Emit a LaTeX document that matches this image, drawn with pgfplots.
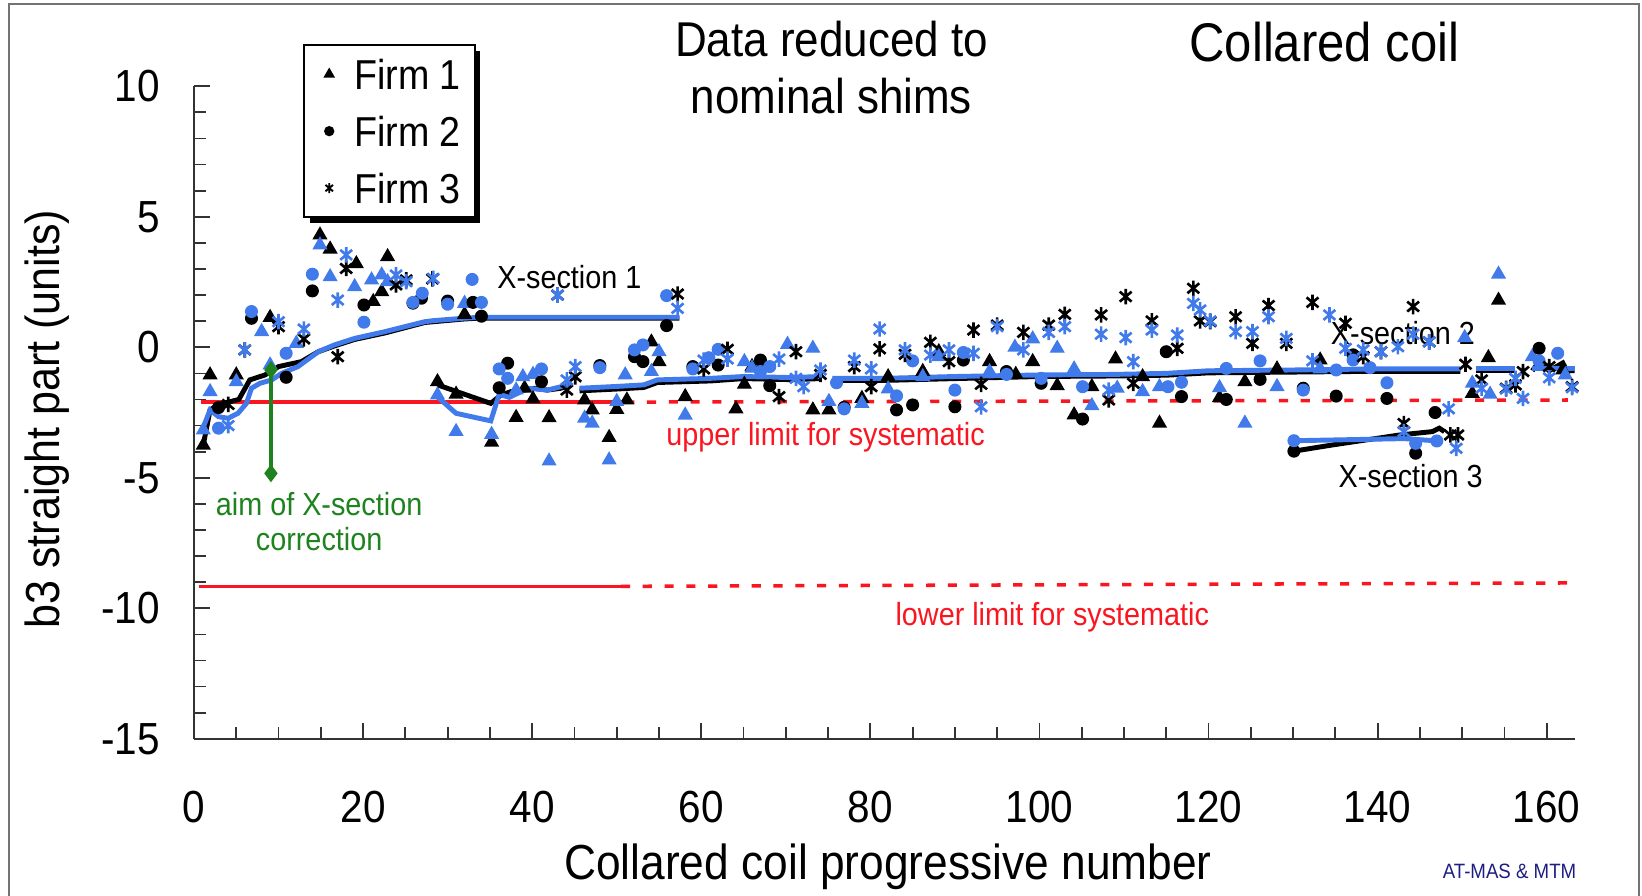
\documentclass[border=0pt]{standalone}
\usepackage{fontspec}
\setmainfont{Liberation Sans}[FakeStretch=0.9]
\usepackage{pgfplots}
\pgfplotsset{compat=1.18}
\usetikzlibrary{shadows}

\definecolor{cblue}{RGB}{64,122,235}
\definecolor{cred}{RGB}{250,22,32}
\definecolor{cgreen}{RGB}{30,130,30}
\definecolor{cnavy}{RGB}{30,30,130}

% asterisk with a vertical arm and two diagonals
\pgfdeclareplotmark{xast}{%
  \pgfpathmoveto{\pgfqpoint{0pt}{\pgfplotmarksize}}%
  \pgfpathlineto{\pgfqpoint{0pt}{-\pgfplotmarksize}}%
  \pgfpathmoveto{\pgfqpoint{0.766\pgfplotmarksize}{0.643\pgfplotmarksize}}%
  \pgfpathlineto{\pgfqpoint{-0.766\pgfplotmarksize}{-0.643\pgfplotmarksize}}%
  \pgfpathmoveto{\pgfqpoint{-0.766\pgfplotmarksize}{0.643\pgfplotmarksize}}%
  \pgfpathlineto{\pgfqpoint{0.766\pgfplotmarksize}{-0.643\pgfplotmarksize}}%
  \pgfusepathqstroke}

\pgfplotsset{
  tri/.style={only marks, forget plot, mark=triangle*, mark size=2.1pt},
  dot/.style={only marks, forget plot, mark=*, mark size=1.65pt},
  ast/.style={only marks, forget plot, mark=xast, mark size=2.2pt, line width=0.75pt},
  avg/.style={forget plot, no marks, line width=1.4pt},
}
\tikzset{lbl/.style={font=\fontsize{9.1}{11}\selectfont, anchor=west, inner sep=0pt}}

\begin{document}
\begin{tikzpicture}
\useasboundingbox (0,0) rectangle (16.42,8.96);
\draw[black!55, line width=0.5pt] (0.09,-0.3) rectangle (16.39,8.92);
\begin{axis}[
  scale only axis, width=13.806cm, height=6.525cm,
  at={(1.94cm,1.572cm)}, anchor=south west,
  xmin=0, xmax=163.3, ymin=-15, ymax=10,
  axis lines=left, axis line style={-, black!80, line width=0.6pt},
  clip=false,
  xtick={0,20,...,160}, xticklabels={0,20,40,60,80,100,120,140,160},
  minor x tick num=3,
  ytick={-15,-10,...,10}, yticklabels={-15,-10,-5,0,5,10},
  minor y tick num=4,
  tick align=inside, major tick length=0.16cm, minor tick length=0.12cm,
  tick style={black!80, line width=0.5pt},
  ticklabel style={font=\fontsize{12.8}{15}\selectfont},
  xticklabel style={anchor=north, yshift=-0.4cm},
  yticklabel style={anchor=east, xshift=-0.22cm},
  xlabel={Collared coil progressive number},
  ylabel={b3 straight part (units)},
  xlabel style={at={(axis description cs:0.5027,-0.1965)}, anchor=center, font=\fontsize{14}{16}\selectfont},
  ylabel style={at={(axis description cs:-0.1065,0.49)}, anchor=center, font=\fontsize{13.6}{16}\selectfont},
  legend image code/.code={\path (0cm,0cm) (0.2cm,0cm); \draw[#1, /tikz/only marks] plot coordinates {(0.1cm,0cm)};},
  legend cell align=left,
  legend style={
    at={(axis description cs:0.079,1.0648)}, anchor=north west,
    draw=black, line width=0.6pt, fill=white,
    drop shadow={shadow xshift=0.55mm, shadow yshift=-0.55mm, fill=black, opacity=1},
    font=\fontsize{11.9}{14}\selectfont,
    inner xsep=4pt, inner ysep=4pt, row sep=7.6pt,
    nodes={inner sep=0pt, text height=8.6pt, text depth=0pt},
    /tikz/every odd column/.style={column sep=0.14cm},
  },
]
\addlegendimage{mark=triangle*, mark size=1.3pt, black}
\addlegendentry{Firm 1}
\addlegendimage{mark=*, mark size=1.15pt, black}
\addlegendentry{Firm 2}
\addlegendimage{mark=xast, mark size=1.4pt, black, line width=0.55pt}
\addlegendentry{Firm 3}

% limits for the systematic part
\addplot[forget plot, cred, line width=1pt] coordinates {(0.8,-2.1) (51,-2.1)};
\addplot[forget plot, cred, line width=1pt, dash pattern=on 2.6pt off 3.6pt] coordinates {(51,-2.1) (162.5,-2.02)};
\addplot[forget plot, cred, line width=1pt] coordinates {(0.6,-9.16) (50.5,-9.16)};
\addplot[forget plot, cred, line width=1pt, dash pattern=on 2.6pt off 3.6pt] coordinates {(50.5,-9.16) (162.5,-9.03)};

% running averages, X-section 1
\addplot[avg, black] coordinates {(1.1,-3.74) (1.9,-2.4) (2.9,-2.2) (5.3,-2.0) (6.6,-1.25) (8.4,-1.06) (10,-0.74) (12.7,-0.55) (14.7,-0.17) (16.6,0.05) (19,0.3) (22.6,0.55) (27.3,0.95) (31.8,1.08) (33.8,1.12) (57.4,1.12)};
\addplot[avg, cblue] coordinates {(0.9,-3.23) (1.9,-2.4) (2.9,-2.66) (4.05,-2.72) (5.2,-2.53) (6.2,-2.15) (6.8,-1.57) (7.8,-1.38) (9.2,-1.25) (10.35,-1.0) (12.3,-0.74) (14.7,-0.17) (16.6,0.09) (19.0,0.34) (22.6,0.6) (27.3,0.98) (28.3,1.02) (31.8,1.11) (33.8,1.15) (57.4,1.15)};
\addplot[avg, black] coordinates {(28.8,-1.44) (35.1,-2.15) (36.3,-1.83) (37.5,-1.7) (39.1,-1.64) (40.3,-1.57) (41.8,-1.64) (43.4,-1.57) (44.6,-1.44)};
\addplot[avg, cblue] coordinates {(28.8,-1.9) (31.0,-2.53) (35.1,-2.82) (36.1,-1.8) (37.3,-1.92) (39.5,-1.57) (41.8,-1.64) (43.4,-1.51) (44.6,-1.44)};
\addplot[avg, black] coordinates {(45.6,-1.67) (50,-1.6) (53.2,-1.54) (54.8,-1.35) (61.1,-1.29) (65,-1.2) (70.6,-1.24) (74.1,-1.2)};
\addplot[avg, cblue] coordinates {(45.6,-1.57) (50,-1.5) (53.2,-1.44) (54.8,-1.25) (61.1,-1.19) (65,-1.12) (70.6,-1.16) (74.1,-1.12)};
% X-section 2
\addplot[avg, black] coordinates {(75.5,-1.27) (81.6,-1.27) (90,-1.2) (100,-1.12) (108.7,-1.1) (115,-1.07) (120,-0.98) (130,-0.95) (140,-0.92) (149.8,-0.92)};
\addplot[avg, cblue] coordinates {(75.5,-1.19) (81.6,-1.19) (90,-1.12) (100,-1.06) (108.7,-1.04) (115,-1.0) (120,-0.9) (130,-0.87) (140,-0.83) (149.8,-0.83)};
\addplot[avg, black] coordinates {(151.6,-0.9) (156.3,-0.9)};
\addplot[avg, cblue] coordinates {(151.6,-0.83) (156.3,-0.83)};
\addplot[avg, black] coordinates {(158.3,-0.9) (159.1,-0.55) (160.3,-0.9) (161.9,-0.6) (162.4,-0.9) (163.3,-0.9)};
\addplot[avg, cblue] coordinates {(158.3,-0.83) (163.3,-0.83)};
% X-section 3
\addplot[avg, black] coordinates {(130.1,-3.98) (134.7,-3.74) (142.6,-3.36) (146.5,-3.23) (147.3,-3.1) (147.9,-3.23)};
\addplot[avg, cblue] coordinates {(130.1,-3.58) (143.1,-3.5) (147.2,-3.59)};

% Firm 1
\addplot[tri, black] table {
1.1 -3.75
1.9 -1.06
5.0 -1.06
9.0 1.14
14.9 4.3
16.1 3.76
19.2 3.2
21.2 1.75
22.2 2.13
22.9 3.47
28.8 -1.32
31.0 -1.8
32.0 1.26
35.2 -3.64
38.1 -2.69
39.1 -1.57
40.1 -1.98
42.0 -2.7
46.2 -2.02
47.1 -2.4
49.1 -3.46
50.0 -2.38
51.2 -2.02
54.1 0.2
55.0 -0.55
58.1 -1.89
64.1 -2.36
65.1 -1.42
66.0 -0.74
73.2 -2.4
75.1 -2.4
79.0 -1.96
82.1 -1.13
86.2 -0.93
88.1 -0.17
94.1 -0.55
97.2 -1.04
99.2 -0.55
102.1 -1.47
104.1 -2.59
106.2 -1.51
109.0 -0.45
112.2 -1.13
114.2 -2.91
121.3 -1.93
124.3 -1.32
128.1 -0.83
133.2 -0.49
151.2 -1.77
153.1 -0.4
154.3 1.8
161.9 -0.87
};
\addplot[tri, cblue] table {
1.1 -3.17
1.9 -1.7
5.0 -1.32
8.0 0.6
9.0 -0.68
12.1 0.15
14.9 3.92
16.1 2.7
19.0 2.32
21.0 2.58
22.2 2.77
22.9 2.51
28.8 -1.83
31.0 -3.23
32.0 1.68
35.2 -3.34
38.1 -1.64
38.9 -1.13
40.1 -1.04
42.0 -4.36
46.2 -2.72
47.1 -2.91
49.1 -4.32
50.0 -2.08
51.0 -1.06
54.1 -0.93
55.0 -0.17
58.1 -2.6
65.1 -0.55
66.0 -0.8
70.2 0.11
73.2 -0.04
75.1 -2.08
79.0 -2.15
82.1 -1.6
86.2 -1.13
88.1 -0.36
94.1 -0.93
97.1 0.0
99.2 0.32
102.1 -0.04
104.1 -0.83
106.2 -2.24
109.2 -1.57
112.2 -1.7
114.2 -1.51
121.3 -1.55
124.3 -2.91
128.1 -1.51
133.2 -0.83
150.3 0.37
151.2 -1.38
153.3 -1.8
154.3 2.8
158.3 -0.36
162.2 -1.06
};

% Firm 2
\addplot[dot, black] table {
2.9 -2.31
6.8 1.11
10.9 -1.15
14.0 2.16
20.1 1.62
25.9 1.69
26.9 1.88
30.0 1.77
33.0 1.72
34.0 1.19
36.1 -1.55
37.1 -0.61
41.1 -1.32
48.0 -0.7
52.1 -0.36
53.1 -0.55
55.9 0.83
59.0 -0.74
62.0 -0.68
67.0 -0.49
68.1 -1.47
76.9 -2.3
83.1 -2.4
85.0 -2.21
90.0 -2.28
91.0 -0.49
96.1 -0.93
100.2 -1.38
105.1 -2.75
115.0 -0.17
116.8 -1.89
122.1 -2.0
126.1 -1.23
130.1 -3.98
131.2 -1.57
135.1 -1.87
137.1 -0.29
141.1 -1.96
144.5 -4.06
146.8 -2.5
159.1 -0.04
};
\addplot[dot, cblue] table {
2.9 -3.1
6.8 1.37
10.9 -0.23
14.0 2.8
20.1 0.96
25.9 1.72
27.0 2.07
30.0 1.65
32.9 2.6
34.0 1.72
36.1 -0.83
37.1 -1.19
41.1 -0.83
48.0 -0.78
52.1 -0.1
53.1 0.09
55.9 1.98
59.0 -0.83
60.9 -0.4
62.0 -0.08
67.0 -0.93
68.1 -0.74
76.0 -1.36
76.9 -2.36
83.1 -1.86
85.0 -0.52
90.0 -1.64
91.0 -0.2
96.1 -1.04
100.2 -1.19
105.1 -1.51
115.2 -1.51
116.8 -1.34
122.1 -0.81
126.1 -0.52
130.1 -3.58
131.2 -1.64
135.1 -0.87
137.1 -0.49
139.1 -0.78
141.1 -1.36
144.5 -3.68
147.0 -3.59
159.1 -0.52
161.3 -0.23
};

% Firm 3
\addplot[ast, black] table {
4.05 -2.19
6.0 -0.1
10.0 0.79
13.0 0.32
17.0 -0.36
18.0 3.02
23.9 2.39
25.1 2.58
28.2 2.62
43.0 2.0
44.1 -1.64
45.1 -1.13
57.2 2.04
60.3 -0.83
63.1 -0.08
69.2 -1.89
71.2 -0.17
74.1 -1.04
78.1 -0.74
80.1 -1.51
81.1 -0.06
84.1 -0.27
87.1 0.19
89.3 -0.55
92.2 0.66
93.1 -1.42
95.0 0.85
98.1 0.57
101.1 0.85
103.0 1.26
107.3 1.24
108.2 -2.02
110.2 1.94
111.1 -1.38
113.3 1.01
116.3 -0.04
118.2 2.26
119.0 1.01
120.2 0.98
123.2 1.17
125.2 0.15
127.1 1.6
129.2 0.15
132.3 1.72
136.2 0.92
138.3 -0.36
140.4 -0.17
143.1 -2.92
144.2 1.56
146.1 0.21
148.6 -3.36
149.5 -3.36
150.4 -0.65
152.3 -1.25
155.2 -1.57
156.3 -1.44
157.2 -0.93
160.3 -0.74
163.0 -1.51
};
\addplot[ast, cblue] table {
4.05 -3.0
6.0 -0.1
10.0 0.98
13.0 0.7
17.0 1.81
18.0 3.54
23.9 2.77
25.1 2.51
28.3 2.64
43.0 2.0
44.1 -1.25
45.1 -0.74
57.2 1.49
60.3 -0.49
63.1 -0.45
69.2 -0.45
71.2 -1.19
72.1 -1.51
74.1 -0.87
78.1 -0.49
80.1 -0.83
81.1 0.7
84.1 -0.1
87.1 -0.3
89.3 -0.1
92.2 -0.23
93.1 -2.28
95.0 0.79
98.1 -0.1
101.1 0.57
103.0 0.79
107.3 0.5
108.2 -1.64
110.2 0.37
111.1 -0.55
113.3 0.66
116.3 0.47
118.2 1.68
119.0 1.43
120.2 1.01
123.2 0.6
125.2 0.6
127.1 1.17
129.2 0.34
132.3 -0.52
134.3 1.24
136.2 -0.04
138.3 -0.1
140.4 -0.17
142.4 0.02
143.1 -3.23
144.2 0.5
146.1 0.21
148.4 -2.36
149.3 -3.87
152.3 -1.57
155.2 -1.6
156.3 -1.19
157.2 -1.96
160.3 -1.17
163.0 -1.55
};

% aim of the X-section correction
\addplot[forget plot, cgreen, line width=0.9pt, mark=diamond*, mark size=1.8pt] coordinates {(9.1,-0.87) (9.1,-4.83)};

% annotations
\node[font=\fontsize{13.9}{16.4}\selectfont, align=center] at (axis cs:75.4,10.72) {Data reduced to\\nominal shims};
\node[font=\fontsize{15.5}{18}\selectfont] at (axis cs:133.7,11.70) {Collared coil};
\node[lbl] at (axis cs:35.8,2.69) {X-section 1};
\node[lbl] at (axis cs:134.4,0.55) {X-section 2};
\node[lbl] at (axis cs:135.3,-4.95) {X-section 3};
\node[lbl, text=cred] at (axis cs:55.8,-3.46) {upper limit for systematic};
\node[lbl, text=cred] at (axis cs:82.9,-10.36) {lower limit for systematic};
\node[font=\fontsize{9.1}{10.1}\selectfont, align=center, text=cgreen] at (axis cs:14.8,-6.67) {aim of X-section\\correction};
\node[font=\fontsize{5.9}{7}\selectfont, text=cnavy] at (axis cs:155.6,-20.07) {AT-MAS \& MTM};
\end{axis}
\end{tikzpicture}
\end{document}
